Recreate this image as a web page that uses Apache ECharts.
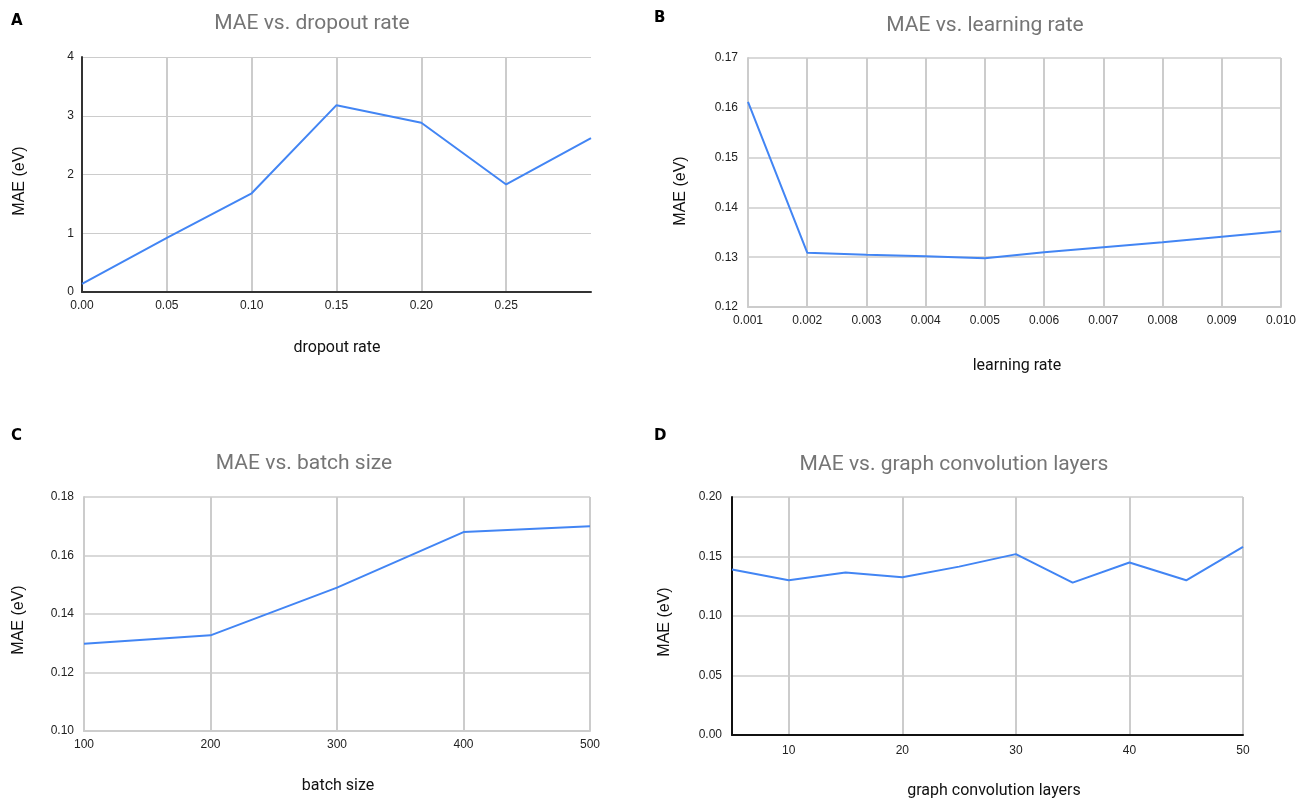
<!DOCTYPE html>
<html>
<head>
<meta charset="utf-8">
<script src="https://cdn.jsdelivr.net/npm/echarts@6/dist/echarts.min.js"></script>
<style>
  html, body { margin: 0; padding: 0; background: #fff; }
  #chart { width: 1299px; height: 799px; }
</style>
</head>
<body>
<div id="chart"></div>
<script>
// A - dropout rate
var dropoutX = [0.00, 0.05, 0.10, 0.15, 0.20, 0.25, 0.30];
var dropoutMAE = [0.14, 0.92, 1.68, 3.18, 2.88, 1.83, 2.62];
// B - learning rate
var lrX = [0.001, 0.002, 0.003, 0.004, 0.005, 0.006, 0.007, 0.008, 0.009, 0.010];
var lrMAE = [0.1612, 0.1309, 0.1305, 0.1302, 0.1298, 0.1310, 0.1320, 0.1330, 0.1341, 0.1352];
// C - batch size
var batchX = [100, 200, 300, 400, 500];
var batchMAE = [0.1298, 0.1327, 0.149, 0.168, 0.170];
// D - graph convolution layers
var layersX = [5, 10, 15, 20, 25, 30, 35, 40, 45, 50];
var layersMAE = [0.139, 0.130, 0.1365, 0.1325, 0.1415, 0.152, 0.128, 0.145, 0.130, 0.158];
var layersTicks = [10, 20, 30, 40, 50];

var titles = ['MAE vs. dropout rate', 'MAE vs. learning rate', 'MAE vs. batch size', 'MAE vs. graph convolution layers'];
var xNames = ['dropout rate', 'learning rate', 'batch size', 'graph convolution layers'];
var letters = ['A', 'B', 'C', 'D'];

var blue = '#4285f4';
var gridColor = '#cccccc';
var tickFont = { color: '#222', fontSize: 12, fontFamily: 'Liberation Sans' };

function pairs(xs, ys) {
    var out = [];
    for (var i = 0; i < xs.length; i++) out.push([xs[i], ys[i]]);
    return out;
}

function line(idx, xs, ys) {
    return {
        type: 'line',
        xAxisIndex: idx,
        yAxisIndex: idx,
        data: pairs(xs, ys),
        showSymbol: false,
        clip: false,
        lineStyle: { color: blue, width: 2 },
        itemStyle: { color: blue }
    };
}

var grids = [
    { left: 82, top: 57, width: 509, height: 235 },
    { left: 748, top: 58, width: 535, height: 249 },
    { left: 84, top: 497, width: 506, height: 234 },
    { left: 732, top: 497, width: 511, height: 238 }
];

var option = {
    animation: false,
    grid: grids,
    xAxis: [
        {
            gridIndex: 0, type: 'value', min: 0, max: 0.3, interval: 0.05,
            axisLine: { show: true, lineStyle: { color: '#333', width: 2 } },
            axisTick: { show: false },
            axisLabel: Object.assign({ showMaxLabel: false, margin: 8, formatter: function (v) { return v.toFixed(2); } }, tickFont),
            splitLine: { show: true, showMaxLine: false, lineStyle: { color: gridColor, width: 2 } }
        },
        {
            gridIndex: 1, type: 'value', min: 0.001, max: 0.010, interval: 0.001,
            axisLine: { show: true, lineStyle: { color: gridColor, width: 2 } },
            axisTick: { show: false },
            axisLabel: Object.assign({ margin: 8, formatter: function (v) { return v.toFixed(3); } }, tickFont),
            splitLine: { show: true, lineStyle: { color: gridColor, width: 2 } }
        },
        {
            gridIndex: 2, type: 'value', min: 100, max: 500, interval: 100,
            axisLine: { show: true, lineStyle: { color: gridColor, width: 2 } },
            axisTick: { show: false },
            axisLabel: Object.assign({ margin: 8 }, tickFont),
            splitLine: { show: true, lineStyle: { color: gridColor, width: 2 } }
        },
        {
            gridIndex: 3, type: 'value', min: 5, max: 50,
            axisLine: { show: true, lineStyle: { color: '#111', width: 2 } },
            axisTick: { show: false, customValues: layersTicks },
            axisLabel: Object.assign({ margin: 10, customValues: layersTicks }, tickFont),
            splitLine: { show: true, lineStyle: { color: gridColor, width: 2 } }
        }
    ],
    yAxis: [
        {
            gridIndex: 0, type: 'value', min: 0, max: 4, interval: 1,
            axisLine: { show: true, lineStyle: { color: '#333', width: 2 } },
            axisTick: { show: false },
            axisLabel: Object.assign({ margin: 8 }, tickFont),
            splitLine: { show: true, lineStyle: { color: gridColor, width: 1.2 } }
        },
        {
            gridIndex: 1, type: 'value', min: 0.12, max: 0.17, interval: 0.01,
            axisLine: { show: true, lineStyle: { color: gridColor, width: 2 } },
            axisTick: { show: false },
            axisLabel: Object.assign({ margin: 10, formatter: function (v) { return v.toFixed(2); } }, tickFont),
            splitLine: { show: true, lineStyle: { color: gridColor, width: 1.5 } }
        },
        {
            gridIndex: 2, type: 'value', min: 0.10, max: 0.18, interval: 0.02,
            axisLine: { show: true, lineStyle: { color: gridColor, width: 2 } },
            axisTick: { show: false },
            axisLabel: Object.assign({ margin: 10, formatter: function (v) { return v.toFixed(2); } }, tickFont),
            splitLine: { show: true, lineStyle: { color: gridColor, width: 1.5 } }
        },
        {
            gridIndex: 3, type: 'value', min: 0, max: 0.20, interval: 0.05,
            axisLine: { show: true, lineStyle: { color: '#111', width: 2 } },
            axisTick: { show: false },
            axisLabel: Object.assign({ margin: 10, formatter: function (v) { return v.toFixed(2); } }, tickFont),
            splitLine: { show: true, lineStyle: { color: gridColor, width: 1.5 } }
        }
    ],
    series: [
        line(0, dropoutX, dropoutMAE),
        line(1, lrX, lrMAE),
        line(2, batchX, batchMAE),
        line(3, layersX, layersMAE)
    ],
    graphic: []
};

// panel letters, titles, axis names
var letterPos = [[11, 22], [654, 19], [11, 437], [654, 437]];
var titlePos = [[312, 24], [985, 26], [304, 464], [954, 465]];
var xNamePos = [[337, 348], [1017, 366], [338, 786], [994, 791]];
var yNamePos = [[20, 181], [681, 191], [19, 620], [665, 622]];

for (var k = 0; k < 4; k++) {
    option.graphic.push({
        type: 'text', left: letterPos[k][0], top: letterPos[k][1] - 8,
        style: { text: letters[k], fill: '#000', font: 'bold 15px "DejaVu Sans"' }
    });
    option.graphic.push({
        type: 'text', x: titlePos[k][0], y: titlePos[k][1],
        style: { text: titles[k], fill: '#757575', font: '21px Roboto', textAlign: 'center', textVerticalAlign: 'middle' }
    });
    option.graphic.push({
        type: 'text', x: xNamePos[k][0], y: xNamePos[k][1],
        style: { text: xNames[k], fill: '#111', font: '16px Roboto', textAlign: 'center', textVerticalAlign: 'middle' }
    });
    option.graphic.push({
        type: 'text', x: yNamePos[k][0], y: yNamePos[k][1], rotation: Math.PI / 2,
        style: { text: 'MAE (eV)', fill: '#111', font: '16px "Liberation Sans"', textAlign: 'center', textVerticalAlign: 'middle' }
    });
}

var chart = echarts.init(document.getElementById('chart'));
chart.setOption(option);
</script>
</body>
</html>
